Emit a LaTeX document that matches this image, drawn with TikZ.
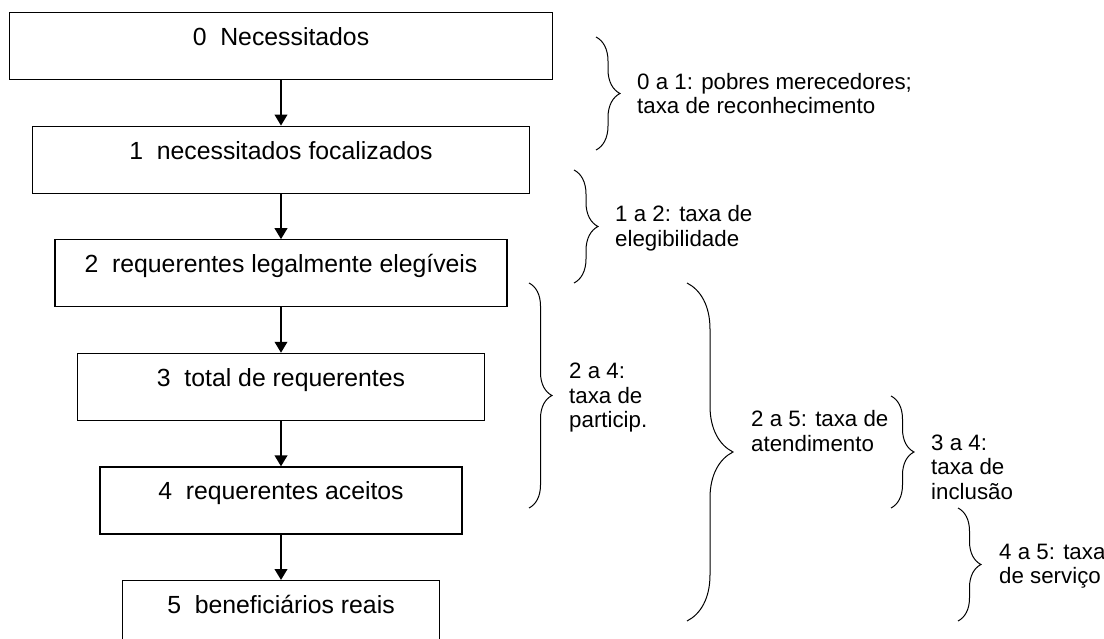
\documentclass[tikz,border=0pt]{standalone}
\usepackage{fontspec}
\setmainfont{Liberation Sans}
\usetikzlibrary{positioning,arrows.meta,decorations.pathreplacing}

\tikzset{
  box/.style={draw, line width=1.1pt, anchor=north, inner xsep=0pt, inner ysep=0pt,
    text height=33pt, text depth=34pt, font=\fontsize{24.8}{30}\selectfont},
  flow/.style={-{Triangle[width=12.5pt,length=11pt]}, line width=2.2pt},
  chave/.style={decorate, decoration={brace, amplitude=#1}, line width=1pt},
  chave/.default=23pt,
  nota/.style={align=left, anchor=west, inner sep=0pt, font=\fontsize{22.3}{24.5}\selectfont}
}

\begin{document}
\begin{tikzpicture}[x=1pt,y=-1pt]
		\useasboundingbox (0,0) rectangle (1104,639);
		% etapas
		\node[box, minimum width=543pt] (b0) at (281,12) {0\ \ Necessitados};
		\node[box, minimum width=497pt, below=45.5pt of b0] (b1) {1\ \ necessitados focalizados};
		\node[box, minimum width=452pt, below=45.5pt of b1] (b2) {2\ \ requerentes legalmente eleg\'iveis};
		\node[box, minimum width=407pt, below=45.5pt of b2] (b3) {3\ \ total de requerentes};
		\node[box, minimum width=362pt, below=45.5pt of b3] (b4) {4\ \ requerentes aceitos};
		\node[box, minimum width=317pt, below=45.5pt of b4] (b5) {5\ \ benefici\'arios reais};
		\draw[flow] (b0) -- (b1);
		\draw[flow] (b1) -- (b2);
		\draw[flow] (b2) -- (b3);
		\draw[flow] (b3) -- (b4);
		\draw[flow] (b4) -- (b5);
		% taxas
		\draw[chave=24pt] (596,37) -- (596,150);
		\node[nota] (t01) at (637,93.5) {0 a 1: pobres merecedores;\\taxa de reconhecimento};
		\draw[chave=24pt] (574,170) -- (574,283);
		\node[nota] (t12) at (615,228) {1 a 2: taxa de\\elegibilidade};
		\draw[chave] (529,283) -- (529,508);
		\node[nota] (t24) at (569,398) {2 a 4:\\taxa de\\particip.};
		\draw[chave=46pt] (687,283) -- (687,621);
		\node[nota] (t25) at (751,431) {2 a 5: taxa de\\atendimento};
		\draw[chave] (891,396) -- (891,508);
		\node[nota] (t34) at (931,467) {3 a 4:\\taxa de\\inclus\~ao};
		\draw[chave] (958,508) -- (958,621);
		\node[nota] (t45) at (999,566) {4 a 5: taxa\\de servi\c{c}o};
	\end{tikzpicture}
\end{document}
